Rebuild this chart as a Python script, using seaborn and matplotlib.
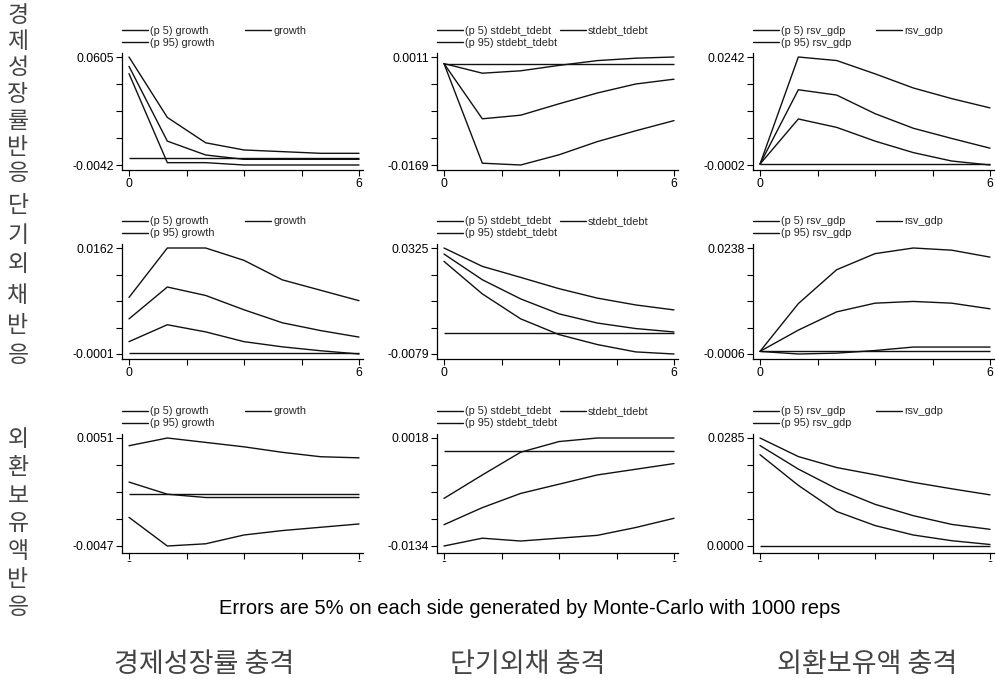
import numpy as np
import pandas as pd
import matplotlib
matplotlib.use("Agg")
import matplotlib.pyplot as plt
from matplotlib.legend import Legend
from matplotlib.transforms import Bbox, TransformedBbox
import seaborn as sns

sns.set_theme(style="ticks")
plt.rcParams["font.family"] = ["Liberation Sans", "Noto Sans CJK KR", "DejaVu Sans"]

steps = [0, 1, 2, 3, 4, 5, 6]
impulse_names = ["growth", "stdebt_tdebt", "rsv_gdp"]
row_titles = ["경제성장률반응", "단기외채반응", "외환보유액반응"]
col_titles = ["경제성장률 충격", "단기외채 충격", "외환보유액 충격"]
note = "Errors are 5% on each side generated by Monte-Carlo with 1000 reps"

# row 1: growth response
r1c1_p95 = [0.0605, 0.0243, 0.0091, 0.0048, 0.0038, 0.0028, 0.0028]
r1c1_mid = [0.0549, 0.0101, 0.0018, -0.0008, -0.0008, -0.0008, -0.0008]
r1c1_p5 = [0.0505, -0.0028, -0.0028, -0.0042, -0.0042, -0.0042, -0.0042]
r1c2_p95 = [0.0, -0.0016, -0.0012, -0.0003, 0.0005, 0.0009, 0.0011]
r1c2_mid = [0.0, -0.0092, -0.0086, -0.0067, -0.0049, -0.0034, -0.0026]
r1c2_p5 = [0.0, -0.0166, -0.0169, -0.0152, -0.0130, -0.0112, -0.0095]
r1c3_p95 = [0.0, 0.0242, 0.0234, 0.0204, 0.0172, 0.0148, 0.0127]
r1c3_mid = [0.0, 0.0168, 0.0156, 0.0114, 0.0081, 0.0058, 0.0036]
r1c3_p5 = [0.0, 0.0102, 0.0083, 0.0052, 0.0026, 0.0007, -0.0002]
# row 2: short-term debt response
r2c1_p95 = [0.0086, 0.0162, 0.0162, 0.0143, 0.0113, 0.0097, 0.0081]
r2c1_mid = [0.0053, 0.0102, 0.0089, 0.0067, 0.0047, 0.0035, 0.0025]
r2c1_p5 = [0.0018, 0.0044, 0.0033, 0.0018, 0.0010, 0.0004, -0.0001]
r2c2_p95 = [0.0325, 0.0255, 0.0213, 0.0170, 0.0134, 0.0108, 0.0089]
r2c2_mid = [0.0302, 0.0204, 0.0131, 0.0074, 0.0039, 0.0018, 0.0005]
r2c2_p5 = [0.0274, 0.0150, 0.0055, -0.0005, -0.0043, -0.0071, -0.0079]
r2c3_p95 = [0.0, 0.0110, 0.0188, 0.0225, 0.0238, 0.0233, 0.0217]
r2c3_mid = [0.0, 0.0049, 0.0091, 0.0111, 0.0115, 0.0111, 0.0098]
r2c3_p5 = [0.0, -0.0006, -0.0004, 0.0002, 0.0010, 0.0010, 0.0010]
# row 3: reserves response
r3c1_p95 = [0.0044, 0.0051, 0.0047, 0.0043, 0.0038, 0.0034, 0.0033]
r3c1_mid = [0.0011, 0.0000, -0.0003, -0.0003, -0.0003, -0.0003, -0.0003]
r3c1_p5 = [-0.0021, -0.0047, -0.0045, -0.0037, -0.0033, -0.0030, -0.0027]
r3c2_p95 = [-0.0067, -0.0034, -0.0002, 0.0013, 0.0018, 0.0018, 0.0018]
r3c2_mid = [-0.0104, -0.0080, -0.0060, -0.0047, -0.0034, -0.0026, -0.0018]
r3c2_p5 = [-0.0134, -0.0123, -0.0127, -0.0123, -0.0119, -0.0108, -0.0095]
r3c3_p95 = [0.0285, 0.0236, 0.0207, 0.0188, 0.0168, 0.0151, 0.0135]
r3c3_mid = [0.0265, 0.0203, 0.0151, 0.0110, 0.0080, 0.0057, 0.0044]
r3c3_p5 = [0.0241, 0.0160, 0.0091, 0.0054, 0.0029, 0.0014, 0.0004]

panels = [
    [(r1c1_p5, r1c1_mid, r1c1_p95), (r1c2_p5, r1c2_mid, r1c2_p95), (r1c3_p5, r1c3_mid, r1c3_p95)],
    [(r2c1_p5, r2c1_mid, r2c1_p95), (r2c2_p5, r2c2_mid, r2c2_p95), (r2c3_p5, r2c3_mid, r2c3_p95)],
    [(r3c1_p5, r3c1_mid, r3c1_p95), (r3c2_p5, r3c2_mid, r3c2_p95), (r3c3_p5, r3c3_mid, r3c3_p95)],
]

W, H = 996, 679
fig = plt.figure(figsize=(W / 100, H / 100), dpi=100)
fig.patch.set_facecolor("white")

def fx(px):
    return px / W

def fy(py):
    return 1 - py / H

cols_px = [(122, 363), (437, 678), (753, 994)]
rows_px = [(57, 165, 170), (248, 354, 359), (438, 546, 553)]
LC = "#111111"
KFONT = ["Noto Sans CJK KR", "DejaVu Sans"]

def add_entry(ax, handle, label, xpx, ypx):
    leg = Legend(ax, [handle], [label], loc="center left",
                 bbox_to_anchor=(fx(xpx), fy(ypx)), bbox_transform=fig.transFigure,
                 frameon=False, fontsize=7.8, borderpad=0, borderaxespad=0,
                 handlelength=2.4, handletextpad=0.2)
    ax.add_artist(leg)

for r in range(3):
    top_t, bot_t, spine = rows_px[r]
    for c in range(3):
        left, right = cols_px[c]
        p5, mid, p95 = panels[r][c]
        name = impulse_names[c]
        ax = fig.add_axes([fx(left), fy(spine), fx(right - left), (spine - (top_t - 4)) / H])
        ax.set_facecolor("white")
        df = pd.DataFrame({"step": steps, "p5": p5, "mid": mid, "p95": p95})
        ax.hlines(0, steps[0], steps[-1], color=LC, lw=1.0)
        sns.lineplot(data=df, x="step", y="p5", ax=ax, color=LC, lw=1.0, label=f"(p 5) {name}")
        sns.lineplot(data=df, x="step", y="mid", ax=ax, color=LC, lw=1.0, label=name)
        sns.lineplot(data=df, x="step", y="p95", ax=ax, color=LC, lw=1.0, label=f"(p 95) {name}")
        handles = {l.get_label(): l for l in ax.get_lines()}
        if ax.get_legend() is not None:
            ax.get_legend().remove()

        ymin = min(min(p5), min(mid), min(p95), 0.0)
        ymax = max(max(p5), max(mid), max(p95), 0.0)
        pxper = (bot_t - top_t) / (ymax - ymin)
        ax.set_ylim(ymin - (spine - bot_t) / pxper, ymax + 4 / pxper)
        yt = np.linspace(ymin, ymax, 5)
        ax.set_yticks(yt)
        ax.set_yticklabels([f"{ymin:.4f}", "", "", "", f"{ymax:.4f}"])
        upx = (right - left - 11) / 6
        ax.set_xlim(-7 / upx, 6 + 4 / upx)
        ax.set_xticks([0, 1.5, 3, 4.5, 6])
        ax.set_xticklabels(["0", "", "", "", "6"])
        ax.set_xlabel("")
        ax.set_ylabel("")
        for s in ["top", "right"]:
            ax.spines[s].set_visible(False)
        for s in ["left", "bottom"]:
            ax.spines[s].set_color("black")
            ax.spines[s].set_linewidth(0.9)
        ax.tick_params(axis="both", direction="out", length=4, width=0.8,
                       colors="black", labelsize=8.8, pad=2)

        add_entry(ax, handles[f"(p 5) {name}"], f"(p 5) {name}", left, top_t - 26.5)
        add_entry(ax, handles[name], name, left + 123, top_t - 26.5)
        add_entry(ax, handles[f"(p 95) {name}"], f"(p 95) {name}", left, top_t - 14.5)

        if r == 2:
            clip = TransformedBbox(Bbox.from_extents(0, fy(562), 1, 1), fig.transFigure)
            for lab in ax.get_xticklabels():
                lab.set_clip_box(clip)
                lab.set_clip_on(True)

# row titles (stacked vertical Korean)
row_char_layout = [(15, 26.5), (205, 30), (440, 28)]
for title, (y0, pitch) in zip(row_titles, row_char_layout):
    for i, ch in enumerate(title):
        fig.text(fx(18), fy(y0 + i * pitch), ch, ha="center", va="center",
                 fontsize=16.5, family=KFONT, color="#444444")

fig.text(fx(530), fy(608), note, ha="center", va="center", fontsize=14.5, color="black")

for title, cx in zip(col_titles, [204, 528, 867]):
    fig.text(fx(cx), fy(665), title, ha="center", va="center", fontsize=19.5,
             family=KFONT, color="#444444")

fig.savefig("out.png", dpi=100, facecolor="white")
